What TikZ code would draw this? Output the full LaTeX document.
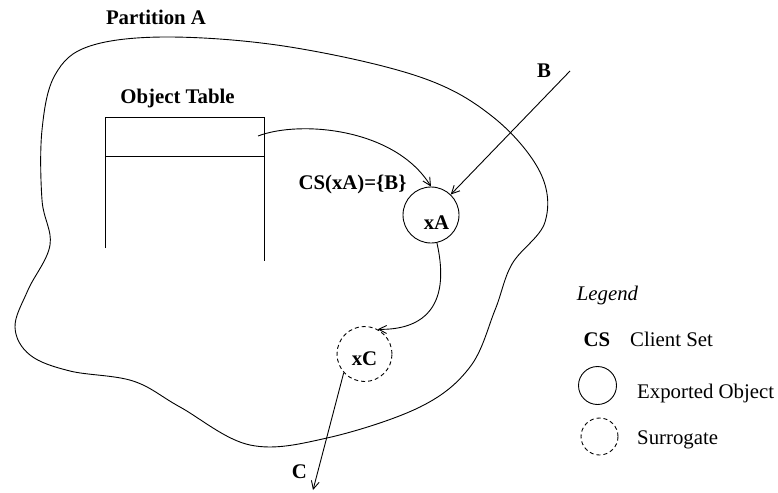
\documentclass[tikz,border=0pt]{standalone}
\usepackage{fontspec}
\setmainfont{Liberation Serif}
\usetikzlibrary{arrows.meta}
\newcommand\figfs{\fontsize{20.8}{25}\selectfont}
\tikzset{
  lbl/.style={font=\figfs\bfseries, inner sep=0pt, anchor=base},
  txt/.style={font=\figfs, inner sep=0pt, anchor=base},
  ital/.style={font=\figfs\itshape, inner sep=0pt, anchor=base},
  obj/.style={circle, draw, line width=0.9pt, minimum size=#1, inner sep=0pt},
  obj/.default=56pt,
  surr/.style={obj=#1, dash pattern=on 4pt off 3pt},
  surr/.default=55pt,
  thin line/.style={line width=0.9pt},
  arr/.style={thin line, -{Straight Barb[length=8pt,width=8pt]}},
}
\begin{document}
\begin{tikzpicture}[x=1pt,y=-1pt]
\useasboundingbox (0,0) rectangle (778,492);

% partition outline
\draw[thin line] plot[smooth cycle, tension=0.6] coordinates {
  (42,200) (50,245) (28,290) (15,327) (30,355) (70,371)
  (133,381) (180,407) (250,445) (327,438)
  (420,407) (470,367) (495,310) (512,264)
  (545,222) (540,172) (493,117) (420,77) (290,47)
  (170,37) (90,46) (55,75) (42,130)
};

\node[lbl] (partA) at (156,25) {Partition A};

% object table
\node[lbl] (otlabel) at (177.5,104) {Object Table};
\draw[thin line] (105,248) -- (105,117) -- (264,117) -- (264,261);
\draw[thin line] (105,156) -- (264,156);
\coordinate (entry) at (258,136);

% objects
\node[obj] (xA) at (431,215) {};
\node[lbl] (xAt) at (436.5,229) {xA};
\node[surr] (xC) at (364.5,354) {};
\node[lbl] (xCt) at (364.5,365) {xC};

\node[lbl] (cs) at (352.5,189) {CS(xA)=\{B\}};

% connectors
\draw[arr] (entry) .. controls (300,120) and (395,128) .. (xA.north);
\coordinate (Bstart) at (570,71);
\node[lbl] (Blab) at (544,78) {B};
\draw[arr] (Bstart) -- (xA);
\draw[arr] (xA.282) .. controls (452,310) and (420,330) .. (xC.62);
\coordinate (Cend) at (313,490);
\node[lbl] (Clab) at (299.5,478) {C};
\draw[arr] (xC.222) -- (Cend);

% legend
\node[ital] (legend) at (607.5,300.5) {Legend};
\node[lbl] (lcs) at (597,346.7) {CS};
\node[txt, anchor=base west] (lcst) at (630,346.7) {Client Set};
\node[obj=38pt] (lobj) at (597.5,385.5) {};
\node[txt, anchor=base west] (lobjt) at (637,398) {Exported Object};
\node[surr=37pt] (lsur) at (599.5,436.5) {};
\node[txt, anchor=base west] (lsurt) at (637,444) {Surrogate};
\end{tikzpicture}
\end{document}
